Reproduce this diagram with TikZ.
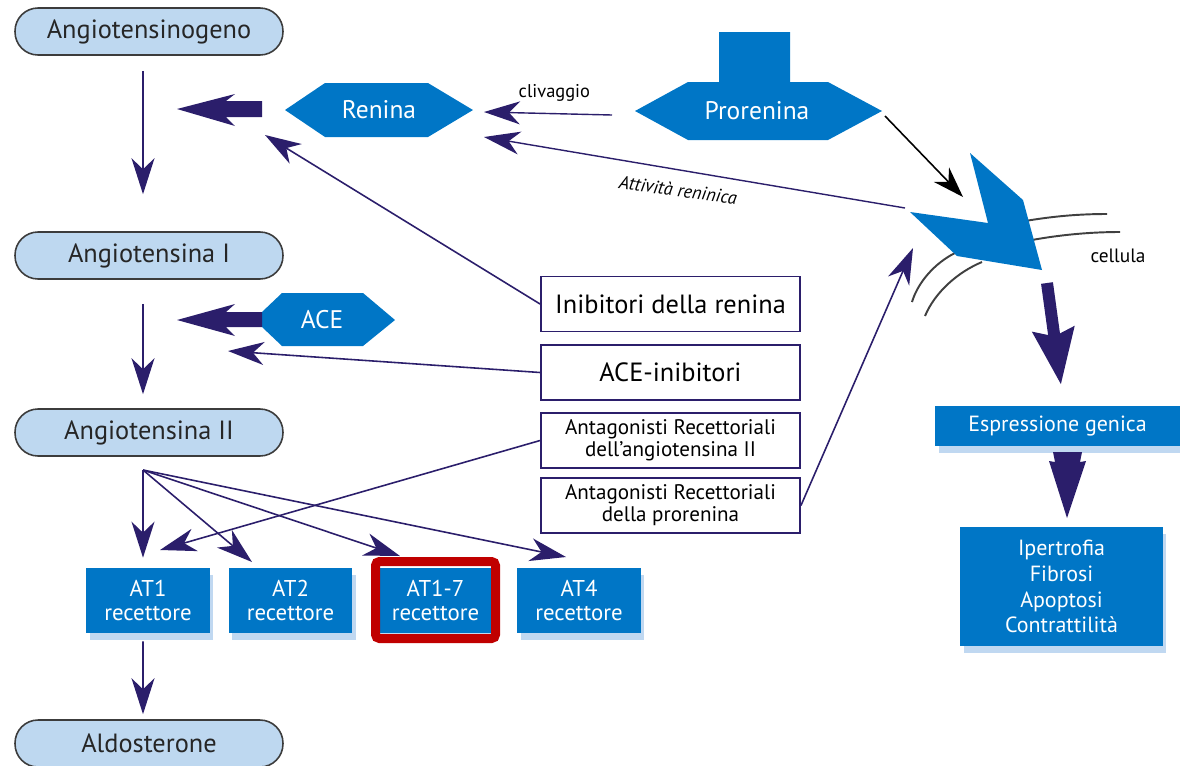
\documentclass[tikz,border=0pt]{standalone}
\usepackage{fontspec}
\setmainfont{PT Sans}
\usetikzlibrary{arrows.meta,shadows}
\definecolor{navy}{RGB}{43,30,107}
\definecolor{rblue}{RGB}{0,118,198}
\definecolor{pillblue}{RGB}{190,216,240}
\definecolor{pillborder}{RGB}{60,60,60}
\definecolor{redb}{RGB}{192,0,0}
\definecolor{shadowblue}{RGB}{165,200,235}
\tikzset{
  pill/.style={draw=pillborder, fill=pillblue, line width=0.9pt, rounded corners=0.46cm,
    minimum width=5.36cm, minimum height=0.94cm, inner sep=0pt,
    font=\fontsize{15}{16}\selectfont, text=black!85},
  drug/.style={draw=navy, fill=white, line width=1.1pt, minimum width=5.18cm,
    minimum height=1.1cm, align=center, inner sep=0pt},
  bshadow/.style={drop shadow={shadow xshift=0.07cm, shadow yshift=-0.14cm,
    fill=shadowblue, opacity=0.7}},
  recbox/.style={fill=rblue, text=white, minimum width=2.48cm, minimum height=1.3cm,
    align=center, inner sep=0pt, font=\fontsize{13}{14}\selectfont, bshadow},
  hexlbl/.style={text=white, inner sep=0pt, font=\fontsize{14.5}{16}\selectfont},
  conn/.style={navy, line width=0.9pt, -{Stealth[length=0.72cm,width=0.46cm,inset=0.22cm]}},
  memb/.style={draw=black!75, line width=1.1pt},
}
\begin{document}
\begin{tikzpicture}[x=0.02cm, y=-0.02cm]
\useasboundingbox (0,0) rectangle (1180,765);

% ---- left column pills
\node[pill] (agen) at (149,31.5) {Angiotensinogeno};
\node[pill] (ang1) at (149,255.5) {Angiotensina I};
\node[pill] (ang2) at (149,432.5) {Angiotensina II};
\node[pill] (aldo) at (149,743.5) {Aldosterone};

% ---- hexagons
\fill[rblue] (285,110) -- (325,83) -- (428,83) -- (473,110) -- (428,137) -- (325,137) -- cycle;
\node[hexlbl] (renina) at (379,110) {Renina};
\fill[rblue] (282,293) -- (363,293) -- (395,320) -- (363,346) -- (282,346) -- (262,327) -- (262,312) -- cycle;
\node[hexlbl] (ace) at (322,320) {ACE};
\fill[rblue] (635,111) -- (688,82) -- (719,82) -- (719,32) -- (790,32) -- (790,82) -- (828,82) -- (882,111) -- (828,140) -- (688,140) -- cycle;
\node[hexlbl] (pro) at (757,111) {Prorenina};

% ---- thick navy arrows from Renina and ACE
\fill[navy] (177,109) -- (235,94) -- (226,101) -- (262,101) -- (262,117) -- (226,117) -- (235,126) -- cycle;
\fill[navy] (177,320) -- (235,304) -- (226,312) -- (262,312) -- (262,327) -- (226,327) -- (235,336) -- cycle;

% ---- drug boxes
\node[drug, font=\fontsize{15}{16}\selectfont] (inib) at (670.5,304) {Inibitori della renina};
\node[drug, font=\fontsize{15}{16}\selectfont] (aceinib) at (670.5,372.5) {ACE-inibitori};
\node[drug, font=\fontsize{12}{12.5}\selectfont] (antang) at (670.5,440.5) {Antagonisti Recettoriali\\dell’angiotensina II};
\node[drug, font=\fontsize{12}{12.5}\selectfont] (antpro) at (670.5,505.5) {Antagonisti Recettoriali\\della prorenina};

% ---- receptor boxes
\node[recbox] (at1) at (148,600.5) {AT1\\recettore};
\node[recbox] (at2) at (290.5,600.5) {AT2\\recettore};
\node[recbox, minimum width=2.4cm] (at17) at (435.5,600.5) {AT1-7\\recettore};
\draw[redb, line width=0.18cm, rounded corners=0.08cm] (375.5,561.5) rectangle (495.5,638.5);
\node[recbox] (at4) at (579,600.5) {AT4\\recettore};

% ---- right side boxes
\node[fill=rblue, text=white, minimum width=4.9cm, minimum height=0.8cm, inner sep=0pt,
  font=\fontsize{12.5}{14}\selectfont, bshadow] (espr) at (1057.5,426) {Espressione genica};
\node[fill=rblue, text=white, minimum width=4.06cm, minimum height=2.38cm, inner sep=0pt,
  align=center, font=\fontsize{12.5}{14.7}\selectfont, bshadow] (eff) at (1061.5,586.5)
  {Ipertrofia\\Fibrosi\\Apoptosi\\Contrattilità};

% ---- cell and receptor
\draw[memb] (1025,221) .. controls (1055,216) and (1080,214) .. (1107,214);
\draw[memb] (1032,240) .. controls (1065,234) and (1095,232) .. (1120,232);
\draw[memb] (955,253) .. controls (935,263) and (918,282) .. (912,302);
\draw[memb] (982,262) .. controls (958,272) and (935,292) .. (925,316);
\fill[rblue] (970,153) -- (1023,200) -- (1042,270) -- (957,256) -- (910,212) -- (988,223) -- cycle;
\node[font=\fontsize{11}{12}\selectfont, inner sep=0pt] (cell) at (1118,256) {cellula};

% ---- coordinates for free arrow ends
\coordinate (fan) at (143,470);
\coordinate (rtip) at (265,135);
\coordinate (atip) at (228,351);
\coordinate (at1tip) at (160,550);
\coordinate (ptip) at (913,248);
\coordinate (cstart) at (612,115);
\coordinate (ctip) at (484,112);
\coordinate (astart) at (905,208);
\coordinate (aend) at (484,137);
\coordinate (bstart) at (885,116);
\coordinate (btip) at (963,197);

% ---- main chain arrows
\draw[conn] ([xshift=-0.12cm,yshift=-0.3cm]agen.south) -- ([xshift=-0.12cm,yshift=0.74cm]ang1.north);
\draw[conn] ([xshift=-0.12cm,yshift=-0.48cm]ang1.south) -- ([xshift=-0.12cm,yshift=0.28cm]ang2.north);
\draw[navy, line width=0.9pt] ([xshift=-0.12cm,yshift=-0.28cm]ang2.south) -- (fan);
\draw[conn] (fan) -- ([xshift=-0.1cm,yshift=0.2cm]at1.north);
\draw[conn] (fan) -- (252,562);
\draw[conn] (fan) -- (400,556);
\draw[conn] (fan) -- (566,557);
\draw[conn] ([xshift=-0.1cm,yshift=-0.16cm]at1.south) -- ([xshift=-0.12cm,yshift=0.1cm]aldo.north);

% ---- drug arrows
\draw[conn] (inib.west) -- (rtip);
\draw[conn] (aceinib.west) -- (atip);
\draw[conn] (antang.west) -- (at1tip);
\draw[conn] (antpro.east) -- (ptip);

% ---- prorenina arrows
\draw[conn, line width=0.8pt] (cstart) -- node[pos=0.45, above=3pt, text=black, font=\fontsize{10.5}{11}\selectfont] {clivaggio} (ctip);
\draw[conn, line width=0.8pt] (astart) -- (aend);
\node[font=\itshape\fontsize{10.5}{11}\selectfont, rotate=-8] (attiv) at (678,190) {Attività reninica};
\draw[black, line width=0.9pt, -{Stealth[length=0.62cm,width=0.42cm,inset=0.2cm]}] (bstart) -- (btip);

% ---- thick arrows on the right
\draw[navy, line width=0.24cm, -{Stealth[length=1.1cm,width=0.8cm,inset=0.12cm]}] (1047,283) -- (1061,385);
\fill[navy] (1053,452) -- (1082,452) -- (1080,462) -- (1086,461) -- (1067,518) -- (1049,461) -- (1055,462) -- cycle;
\end{tikzpicture}
\end{document}
